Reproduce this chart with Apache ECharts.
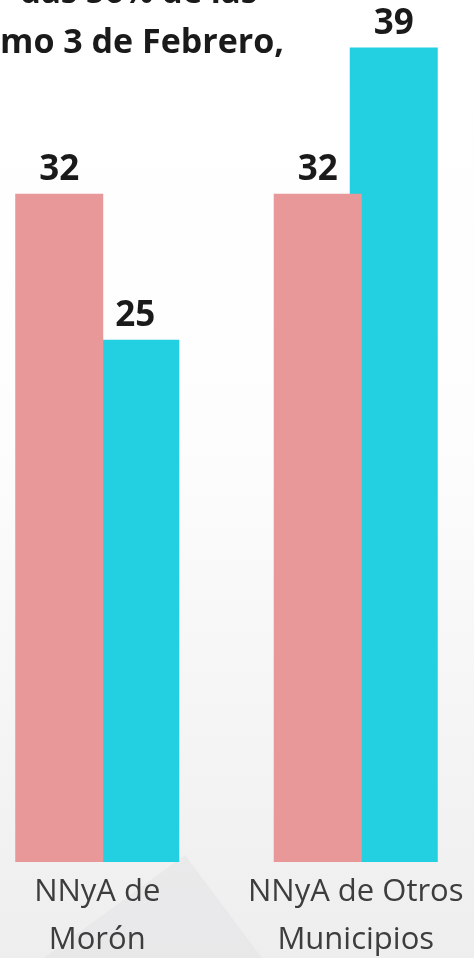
<!DOCTYPE html>
<html>
<head>
<meta charset="utf-8">
<script src="https://cdn.jsdelivr.net/npm/echarts@6/dist/echarts.min.js"></script>
<style>
html,body{margin:0;padding:0;background:#fff;}
#chart{width:474px;height:958px;}
</style>
</head>
<body>
<div id="chart"></div>
<script>
const categories = ['NNyA de\nMorón', 'NNyA de Otros\nMunicipios'];
const seriesPink = [32, 32];
const seriesCyan = [25, 39];
const titleLines = ['das 56% de las', 'mo 3 de Febrero,'];

const chart = echarts.init(document.getElementById('chart'));
chart.setOption({
  animation: false,
  backgroundColor: '#ffffff',
  graphic: [
    {
      type: 'rect', z: -10, silent: true,
      shape: { x: 0, y: 0, width: 474, height: 958 },
      style: {
        fill: new echarts.graphic.LinearGradient(0, 0, 0, 1, [
          { offset: 0, color: '#ffffff' },
          { offset: 0.45, color: '#fdfdfd' },
          { offset: 1, color: '#efeeef' }
        ])
      }
    },
    {
      type: 'polygon', z: -9, silent: true,
      shape: { points: [[0, 990], [185, 855], [262, 958], [0, 958]] },
      style: { fill: 'rgba(225,224,226,0.45)' }
    },
    {
      type: 'text', z: 10,
      style: {
        text: titleLines[0], x: 20, y: -6.5,
        font: 'bold 33px "Open Sans", sans-serif',
        fill: '#1a1a1a', verticalAlign: 'middle'
      }
    },
    {
      type: 'text', z: 10,
      style: {
        text: titleLines[1], x: 0, y: 43,
        font: 'bold 34px "Open Sans", sans-serif',
        fill: '#1a1a1a', verticalAlign: 'middle'
      }
    }
  ],
  grid: { left: -32, width: 517, top: 14, bottom: 96, outerBoundsMode: 'none', containLabel: false },
  xAxis: {
    type: 'category',
    data: categories,
    axisLine: { show: false },
    axisTick: { show: false },
    splitLine: { show: false },
    axisLabel: {
      interval: 0,
      margin: 6,
      fontFamily: '"Open Sans", sans-serif',
      fontSize: 31,
      lineHeight: 48,
      color: '#3d3d3d'
    }
  },
  yAxis: {
    type: 'value', min: 0, max: 40.6, show: false,
    splitLine: { show: false }
  },
  series: [
    {
      type: 'bar', name: 'A', data: seriesPink, z: 3,
      barWidth: 88, barGap: '-13.6%',
      itemStyle: { color: '#e89899' },
      label: {
        show: true, position: 'top', distance: 6,
        fontFamily: '"Open Sans", sans-serif', fontWeight: 'bold',
        fontSize: 35, color: '#1a1a1a'
      }
    },
    {
      type: 'bar', name: 'B', data: seriesCyan, z: 2,
      barWidth: 88, barGap: '-13.6%',
      itemStyle: { color: '#22d0e1' },
      label: {
        show: true, position: 'top', distance: 6,
        fontFamily: '"Open Sans", sans-serif', fontWeight: 'bold',
        fontSize: 35, color: '#1a1a1a'
      }
    }
  ]
});
</script>
</body>
</html>
